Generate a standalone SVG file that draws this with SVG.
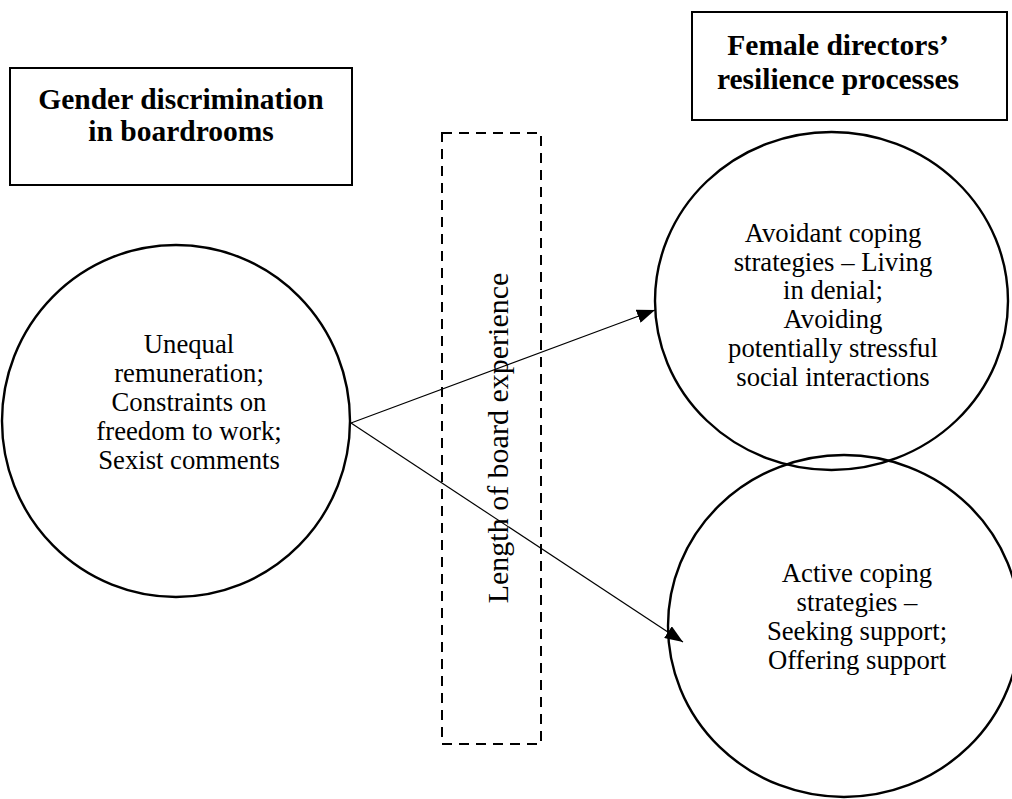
<svg xmlns="http://www.w3.org/2000/svg" width="1012" height="799" viewBox="0 0 1012 799">
  <style>
    .box { fill: #fff; stroke: #000; stroke-width: 2; }
    .node { fill: none; stroke: #000; stroke-width: 2.4; }
    .title { font-family: "Liberation Serif", "Times New Roman", serif; font-weight: bold; font-size: 29.5px; fill: #000; text-anchor: middle; }
    .body { font-family: "Liberation Serif", "Times New Roman", serif; font-size: 26.7px; fill: #000; text-anchor: middle; }
    .vertical { font-size: 30px; }
    .dash { fill: none; stroke: #000; stroke-width: 2; stroke-dasharray: 10 7; }
    .link { stroke: #000; stroke-width: 1.2; fill: none; marker-end: url(#arrow); }
  </style>
  <defs>
    <marker id="arrow" viewBox="0 0 18 14" refX="18" refY="7" markerWidth="18" markerHeight="14" markerUnits="userSpaceOnUse" orient="auto">
      <path d="M0,0 L18,7 L0,14 Z" fill="#000"/>
    </marker>
  </defs>
  <rect width="1012" height="799" fill="#fff"/>

  <g id="title-discrimination">
    <rect class="box" x="10" y="68" width="342" height="117"/>
    <text class="title" x="181" y="109">Gender discrimination</text>
    <text class="title" x="181" y="141">in boardrooms</text>
  </g>

  <g id="title-resilience">
    <rect class="box" x="692" y="12" width="315" height="108"/>
    <text class="title" x="838" y="55">Female directors’</text>
    <text class="title" x="838" y="89">resilience processes</text>
  </g>

  <g id="moderator">
    <rect class="dash" x="442" y="133" width="99" height="611"/>
    <text class="body vertical" transform="translate(508 438) rotate(-90)">Length of board experience</text>
  </g>

  <g id="discrimination">
    <ellipse class="node" cx="176" cy="421" rx="174" ry="176"/>
    <text class="body" x="189" y="353">Unequal</text>
    <text class="body" x="189" y="382">remuneration;</text>
    <text class="body" x="189" y="411">Constraints on</text>
    <text class="body" x="189" y="440">freedom to work;</text>
    <text class="body" x="189" y="469">Sexist comments</text>
  </g>

  <g id="avoidant-coping">
    <ellipse class="node" cx="831.5" cy="301" rx="176.5" ry="169"/>
    <text class="body" x="833" y="242">Avoidant coping</text>
    <text class="body" x="833" y="271">strategies – Living</text>
    <text class="body" x="833" y="299">in denial;</text>
    <text class="body" x="833" y="328">Avoiding</text>
    <text class="body" x="833" y="357">potentially stressful</text>
    <text class="body" x="833" y="386">social interactions</text>
  </g>

  <g id="active-coping">
    <ellipse class="node" cx="844" cy="626" rx="176" ry="171"/>
    <text class="body" x="857" y="582">Active coping</text>
    <text class="body" x="857" y="611">strategies –</text>
    <text class="body" x="857" y="640">Seeking support;</text>
    <text class="body" x="857" y="669">Offering support</text>
  </g>

  <g id="connectors">
    <line class="link" x1="351" y1="423" x2="655" y2="310"/>
    <line class="link" x1="351" y1="423" x2="683" y2="642"/>
  </g>
</svg>
